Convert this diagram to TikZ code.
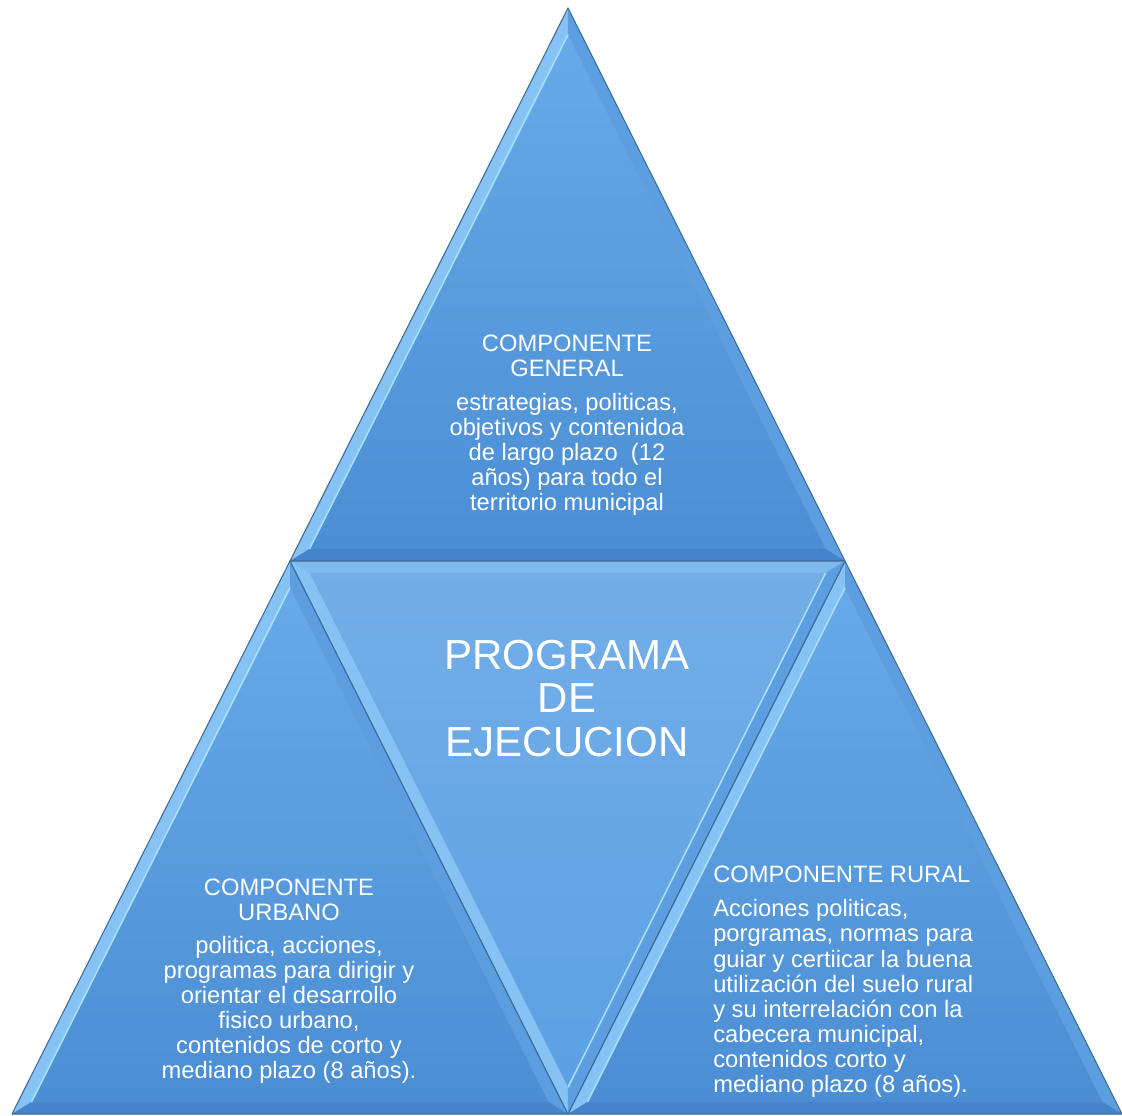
\documentclass[tikz,border=0pt]{standalone}
\usepackage{fontspec}
\setmainfont{Liberation Sans}
\usetikzlibrary{calc}
\definecolor{pzTop}{HTML}{68ACEA}
\definecolor{pzBot}{HTML}{4A8DD3}
\definecolor{pzMidTop}{HTML}{74AEE8}
\definecolor{pzMidBot}{HTML}{5AA0E4}
\definecolor{pzLight}{HTML}{86C2F4}
\definecolor{pzSide}{HTML}{5C9EE0}
\definecolor{pzDark}{HTML}{4584CA}
\definecolor{pzHi}{HTML}{A8DEFF}
\definecolor{pzEdge}{HTML}{3D6C9C}
\tikzset{
  txt/.style={text=white, align=center, inner sep=0pt,
    font=\fontsize{17.8}{18.8}\selectfont},
  txtl/.style={txt, align=left, anchor=west},
  big/.style={text=white, align=center, inner sep=0pt,
    font=\fontsize{31.5}{32.6}\selectfont},
  rim/.style={draw=pzEdge, line width=0.8pt},
}
\begin{document}
\begin{tikzpicture}[x=0.75pt,y=-0.75pt,line join=round]
  \useasboundingbox (0,0) rectangle (1122,1116);
  % corners of the pyramid
  \coordinate (T) at (568,8);
  \coordinate (L) at (290,561);
  \coordinate (R) at (845,561);
  \coordinate (BL) at (12,1114);
  \coordinate (BM) at (568,1114);
  \coordinate (BR) at (1122,1114);

  % upright triangles: apex / base left / base right
  \foreach \a/\b/\c in {T/L/R, L/BL/BM, R/BM/BR} {
      \coordinate (m) at ($(\b)!0.5!(\c)$);
      \coordinate (i) at ($(\a)!0.69!(m)$);
      \coordinate (ai) at ($(i)!0.93!(\a)$);
      \coordinate (bi) at ($(i)!0.93!(\b)$);
      \coordinate (ci) at ($(i)!0.93!(\c)$);
      \shade [top color=pzTop, bottom color=pzBot] (\a)--(\b)--(\c)--cycle;
      \fill [pzLight] (\a)--(\b)--(bi)--(ai)--cycle;
      \fill [pzSide] (\a)--(\c)--(ci)--(ai)--cycle;
      \fill [pzDark] (\b)--(\c)--(ci)--(bi)--cycle;
      \draw [pzHi, line width=1.2pt] (ai)--(bi);
      \draw [rim] (\a)--(\b)--(\c)--cycle;
    }

  % inverted middle triangle
  \coordinate (m) at ($(L)!0.5!(R)$);
  \coordinate (i) at ($(BM)!0.69!(m)$);
  \coordinate (li) at ($(i)!0.93!(L)$);
  \coordinate (ri) at ($(i)!0.93!(R)$);
  \coordinate (di) at ($(i)!0.93!(BM)$);
  \shade [top color=pzMidTop, bottom color=pzMidBot] (L)--(R)--(BM)--cycle;
  \fill [pzLight!60!pzMidTop] (L)--(R)--(ri)--(li)--cycle;
  \fill [pzLight] (L)--(BM)--(di)--(li)--cycle;
  \fill [pzSide] (R)--(BM)--(di)--(ri)--cycle;
  \draw [pzHi, line width=1.2pt] (ri)--(di);
  \draw [rim] (L)--(R)--(BM)--cycle;

  % texts
  \node [txt] (genhead) at (567,355.5) {COMPONENTE\\GENERAL};
  \node [txt] (genbody) at (567,454) {estrategias, politicas,\\objetivos y contenidoa\\de largo plazo~ (12\\años) para todo el\\territorio municipal};
  \node [big] (prog) at (567,698.5) {PROGRAMA\\DE\\EJECUCION};
  \node [txt] (urbhead) at (289,899.5) {COMPONENTE\\URBANO};
  \node [txt] (urbbody) at (289,1010) {politica, acciones,\\programas para dirigir y\\orientar el desarrollo\\fisico urbano,\\contenidos de corto y\\mediano plazo (8 años).};
  \node [txtl] (rurhead) at (713,874) {COMPONENTE RURAL};
  \node [txtl] (rurbody) at (713,998.5) {Acciones politicas,\\porgramas, normas para\\guiar y certiicar la buena\\utilización del suelo rural\\y su interrelación con la\\cabecera municipal,\\contenidos corto y\\mediano plazo (8 años).};
\end{tikzpicture}
\end{document}
